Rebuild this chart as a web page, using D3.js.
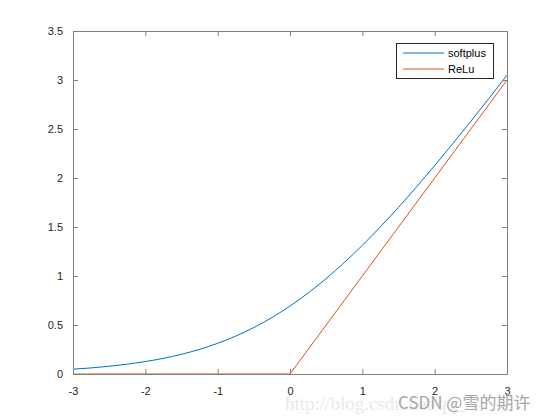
<!DOCTYPE html>
<html><head><meta charset="utf-8">
<script src="https://cdn.jsdelivr.net/npm/d3@7"></script>
<style>body{margin:0;background:#fff}svg{display:block}</style>
</head><body>
<script>
const xs = [-3,-2.75,-2.5,-2.25,-2,-1.75,-1.5,-1.25,-1,-0.75,-0.5,-0.25,0,0.25,0.5,0.75,1,1.25,1.5,1.75,2,2.25,2.5,2.75,3];
const softplus = [0.049,0.062,0.079,0.100,0.127,0.160,0.201,0.252,0.313,0.387,0.474,0.576,0.693,0.826,0.974,1.137,1.313,1.502,1.701,1.910,2.127,2.350,2.579,2.812,3.049];
const reluX = [-3,0,3];
const reluY = [0,0,3];
const xTicks = [-3,-2,-1,0,1,2,3];
const yTicks = [0,0.5,1,1.5,2,2.5,3,3.5];
const seriesNames = ["softplus","ReLu"];
const colors = ["#0072BD","#D95319"];

const W=560,H=420;
const L=73,R=507,T=31,B=374;
const svg=d3.select("body").append("svg").attr("width",W).attr("height",H);
const x=d3.scaleLinear().domain([-3,3]).range([L,R]);
const y=d3.scaleLinear().domain([0,3.5]).range([B,T]);
const axCol="#808080", font="'Liberation Sans', Arial, sans-serif";

// watermark background
svg.append("text").attr("x",285).attr("y",410).attr("font-family","'Liberation Serif','DejaVu Serif',serif")
  .attr("font-size",19).attr("fill","#e9e9e9").text("http://blog.csdn.net/qq_3");

const line=d3.line().x(d=>x(d[0])).y(d=>y(d[1])).curve(d3.curveMonotoneX);
svg.append("path").datum(xs.map((v,i)=>[v,softplus[i]])).attr("d",line)
  .attr("fill","none").attr("stroke",colors[0]).attr("stroke-width",1);
svg.append("path").datum(reluX.map((v,i)=>[v,reluY[i]])).attr("d",d3.line().x(d=>x(d[0])).y(d=>y(d[1])))
  .attr("fill","none").attr("stroke",colors[1]).attr("stroke-width",1);

// axes with inward ticks
const gx=svg.append("g").attr("transform",`translate(0,${B})`)
  .call(d3.axisBottom(x).tickValues(xTicks).tickSize(-5).tickPadding(13).tickFormat(d=>String(d)));
const gx2=svg.append("g").attr("transform",`translate(0,${T})`)
  .call(d3.axisTop(x).tickValues(xTicks).tickSize(-5).tickFormat(""));
const gy=svg.append("g").attr("transform",`translate(${L},0)`)
  .call(d3.axisLeft(y).tickValues(yTicks).tickSize(-5).tickPadding(10).tickFormat(d=>String(d)));
const gy2=svg.append("g").attr("transform",`translate(${R},0)`)
  .call(d3.axisRight(y).tickValues(yTicks).tickSize(-5).tickFormat(""));
[gx,gx2,gy,gy2].forEach(g=>{
  g.selectAll("path").attr("stroke",axCol).attr("stroke-width",1);
  g.selectAll("line").attr("stroke",axCol);
  g.selectAll("text").attr("font-family",font).attr("font-size",11).attr("fill","#262626");
});

// legend
const lg=svg.append("g");
lg.append("rect").attr("x",396.5).attr("y",43.5).attr("width",97).attr("height",35)
  .attr("fill","#fff").attr("stroke","#262626").attr("stroke-width",1);
seriesNames.forEach((n,i)=>{
  const yy=53+i*16;
  lg.append("line").attr("x1",403).attr("x2",444).attr("y1",yy).attr("y2",yy).attr("stroke",colors[i]);
  lg.append("text").attr("x",448).attr("y",yy+4).attr("font-family",font).attr("font-size",11)
    .attr("fill","#000").text(n);
});

// watermark front
svg.append("text").attr("x",398).attr("y",409).attr("font-family","'Noto Sans CJK SC',sans-serif")
  .attr("font-size",17).attr("fill","#a6a6a6").attr("stroke","#fff").attr("stroke-width",0.5).attr("paint-order","stroke")
  .text("CSDN @雪的期许");
</script>
</body></html>
